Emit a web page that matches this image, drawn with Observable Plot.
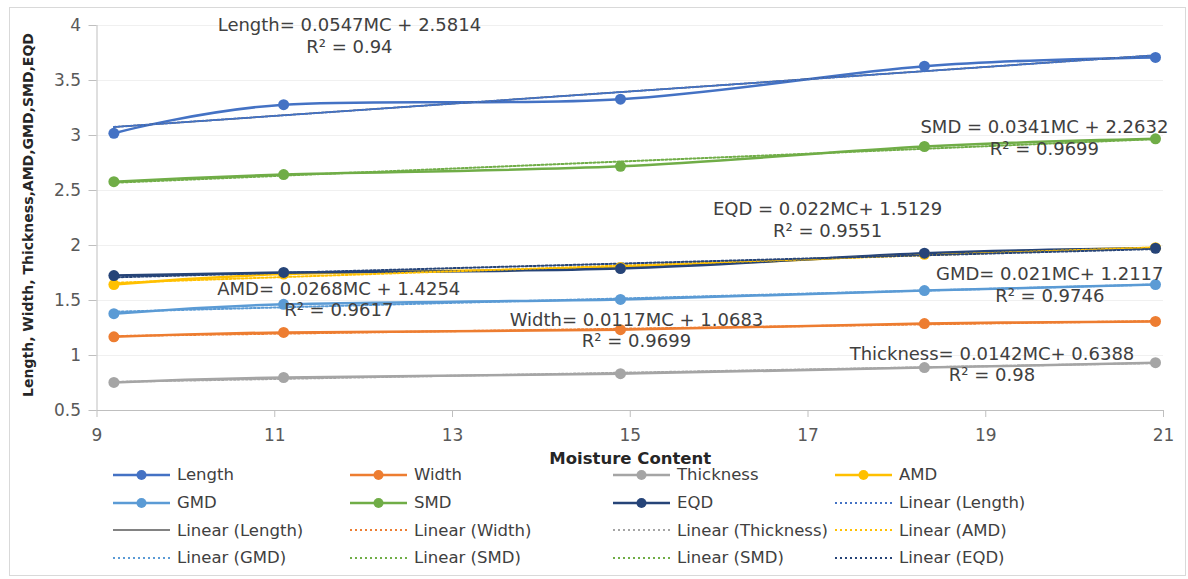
<!DOCTYPE html>
<html><head><meta charset="utf-8">
<script src="https://cdn.jsdelivr.net/npm/d3@7"></script>
<script src="https://cdn.jsdelivr.net/npm/@observablehq/plot@0.6"></script>
<style>
body{margin:0;background:#fff;font-family:"DejaVu Sans",sans-serif;}
#wrap{position:relative;width:1188px;height:579px;overflow:hidden;background:#fff;}
#border{position:absolute;left:9px;top:7px;width:1177px;height:569px;border:1px solid #d9d9d9;box-sizing:border-box;}
#chart{position:absolute;left:0;top:0;}
#legend{position:absolute;left:113px;top:461px;display:grid;grid-template-columns:237px 263px 222px 280px;grid-auto-rows:27.7px;font-size:16.5px;color:#404040;}
.item{display:flex;align-items:center;white-space:nowrap;}
.item svg{margin-right:7px;flex:none;}
</style></head><body>
<div id="wrap"><div id="border"></div><div id="chart"></div><div id="legend"></div></div>
<script>
// ---- data ----
const moisture = [9.19, 11.1, 14.89, 18.31, 20.91];
const lengthVals = [3.02, 3.28, 3.33, 3.63, 3.71];
const widthVals = [1.17, 1.21, 1.235, 1.29, 1.31];
const thicknessVals = [0.755, 0.80, 0.835, 0.89, 0.935];
const amdVals = [1.645, 1.74, 1.80, 1.92, 1.98];
const gmdVals = [1.38, 1.465, 1.51, 1.59, 1.645];
const smdVals = [2.58, 2.645, 2.72, 2.90, 2.97];
const eqdVals = [1.727, 1.755, 1.79, 1.93, 1.975];
const seriesNames = ["Length", "Width", "Thickness", "AMD", "GMD", "SMD", "EQD"];
const seriesColors = ["#4472C4", "#ED7D31", "#A5A5A5", "#FFC000", "#5B9BD5", "#70AD47", "#264478"];
const xTicks = [9, 11, 13, 15, 17, 19, 21];
const yTicks = [0.5, 1, 1.5, 2, 2.5, 3, 3.5, 4];
const xLabel = "Moisture Content";
const yLabel = "Length, Width, Thickness,AMD,GMD,SMD,EQD";
const annText = [
  "Length= 0.0547MC + 2.5814\nR² = 0.94",
  "SMD = 0.0341MC + 2.2632\nR² = 0.9699",
  "EQD = 0.022MC+ 1.5129\nR² = 0.9551",
  "AMD= 0.0268MC + 1.4254\nR² = 0.9617",
  "Width= 0.0117MC + 1.0683\nR² = 0.9699",
  "GMD= 0.021MC+ 1.2117\nR² = 0.9746",
  "Thickness= 0.0142MC+ 0.6388\nR² = 0.98"
];
const annX = [11.84, 19.66, 17.22, 11.72, 15.07, 19.72, 19.07];
const annY = [3.914, 2.986, 2.241, 1.518, 1.236, 1.65, 0.927];
const legendLabels = [
  "Length", "Width", "Thickness", "AMD",
  "GMD", "SMD", "EQD", "Linear (Length)",
  "Linear (Length)", "Linear (Width)", "Linear (Thickness)", "Linear (AMD)",
  "Linear (GMD)", "Linear (SMD)", "Linear (SMD)", "Linear (EQD)"
];
const legendColors = [
  "#4472C4", "#ED7D31", "#A5A5A5", "#FFC000",
  "#5B9BD5", "#70AD47", "#264478", "#4472C4",
  "#595959", "#ED7D31", "#A5A5A5", "#FFC000",
  "#5B9BD5", "#70AD47", "#70AD47", "#264478"
];
const legendKinds = [
  "marker", "marker", "marker", "marker",
  "marker", "marker", "marker", "dotted",
  "solid", "dotted", "dotted", "dotted",
  "dotted", "dotted", "dotted", "dotted"
];

// ---- build table ----
const allVals = [lengthVals, widthVals, thicknessVals, amdVals, gmdVals, smdVals, eqdVals];
const rows = seriesNames.flatMap((name, i) => moisture.map((m, j) => ({series: name, mc: m, value: allVals[i][j]})));
const lengthRows = rows.filter(d => d.series === "Length");
const anns = annText.map((t, i) => ({text: t, x: annX[i], y: annY[i]}));

const chart = Plot.plot({
  width: 1188,
  height: 470,
  marginLeft: 96.5,
  marginRight: 25,
  marginTop: 25,
  marginBottom: 60,
  style: {fontFamily: "DejaVu Sans, sans-serif", background: "transparent", overflow: "visible"},
  x: {domain: [9, 21]},
  y: {domain: [0.5, 4]},
  color: {domain: seriesNames, range: seriesColors},
  marks: [
    Plot.ruleY(yTicks.slice(1), {stroke: "#f0f0f0"}),
    Plot.ruleX([9], {stroke: "#bfbfbf"}),
    Plot.ruleY([0.5], {stroke: "#bfbfbf"}),
    Plot.axisX(xTicks, {tickSize: 7, tickPadding: 11, stroke: "#bfbfbf", fill: "#595959", fontSize: 17, label: null, tickFormat: d => `${d}`}),
    Plot.axisY(yTicks, {tickSize: 8, tickPadding: 8, stroke: "#bfbfbf", fill: "#595959", fontSize: 17, label: null, tickFormat: d => `${d}`}),
    Plot.line(rows, {x: "mc", y: "value", z: "series", stroke: "series", strokeWidth: 2.5, curve: "cardinal"}),
    Plot.linearRegressionY(lengthRows, {x: "mc", y: "value", stroke: "#404040", strokeWidth: 1.5, ci: 0}),
    Plot.linearRegressionY(rows, {x: "mc", y: "value", z: "series", stroke: "series", strokeWidth: 2, strokeDasharray: "2,2", ci: 0}),
    Plot.dot(rows, {x: "mc", y: "value", fill: "series", r: 5.5}),
    Plot.text(anns, {x: "x", y: "y", text: "text", fontSize: 18, fill: "#404040", lineHeight: 1.2}),
    Plot.text([yLabel], {text: d => d, frameAnchor: "left", textAnchor: "middle", rotate: -90, dx: -68, dy: -3, fontSize: 14, fontWeight: "bold", fill: "#262626"}),
    Plot.text([xLabel], {text: d => d, frameAnchor: "bottom", textAnchor: "middle", dy: 53, fontSize: 16.5, fontWeight: "bold", fill: "#262626"})
  ]
});
document.getElementById("chart").appendChild(chart);

// ---- legend ----
const legend = document.getElementById("legend");
legendLabels.forEach((label, i) => {
  const item = document.createElement("div");
  item.className = "item";
  const c = legendColors[i];
  let sw;
  if (legendKinds[i] === "marker") {
    sw = `<line x1="0" x2="57" y1="6" y2="6" stroke="${c}" stroke-width="2.5"/><circle cx="28.5" cy="6" r="5" fill="${c}"/>`;
  } else if (legendKinds[i] === "solid") {
    sw = `<line x1="0" x2="57" y1="6" y2="6" stroke="${c}" stroke-width="1.5"/>`;
  } else {
    sw = `<line x1="0" x2="57" y1="6" y2="6" stroke="${c}" stroke-width="2" stroke-dasharray="2,3"/>`;
  }
  item.innerHTML = `<svg width="57" height="12">${sw}</svg><span>${label}</span>`;
  legend.appendChild(item);
});
</script>
</body></html>
